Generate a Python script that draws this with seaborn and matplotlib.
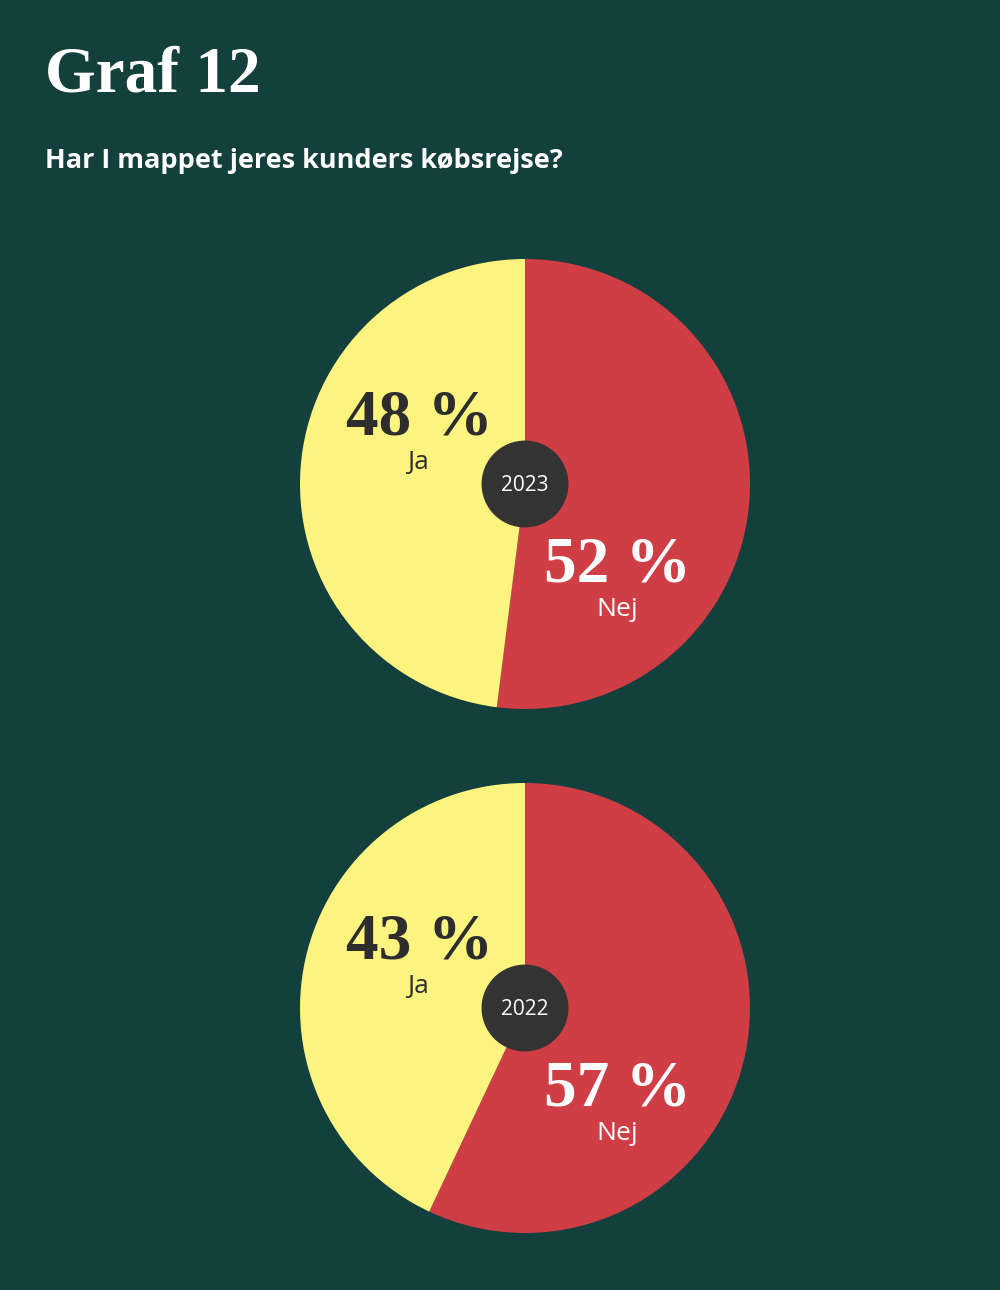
import matplotlib
matplotlib.use("Agg")
import matplotlib.pyplot as plt
import seaborn as sns

# data
years = ["2023", "2022"]
labels = ["Nej", "Ja"]
nej_pct = [52, 57]
ja_pct = [48, 43]

bg = "#133f3c"
red = "#cf3d45"
yellow = "#fcf47e"
dark = "#2d2d2d"
serif = "Liberation Serif"

sns.set_theme(style="white")
plt.rcParams['font.family'] = ['DejaVu Sans']

fig = plt.figure(figsize=(10, 12.9), dpi=100)
fig.patch.set_facecolor(bg)

fig.text(0.045, 1 - 92 / 1290, "Graf 12", family=serif, fontsize=47,
         fontweight="bold", color="white", va="baseline", ha="left")
fig.text(0.045, 0.875, "Har I mappet jeres kunders købsrejse?", family="Open Sans",
         fontsize=19.5, fontweight="bold", color="white", va="center", ha="left")

# pie axes positions in pixels (left, top)
pie_tops = [259, 783]
W, H = 1000, 1290
R = 225

for i, yr in enumerate(years):
    top = pie_tops[i]
    ax = fig.add_axes([300 / W, 1 - (top + 2 * R) / H, 2 * R / W, 2 * R / H])
    ax.pie([nej_pct[i], ja_pct[i]], colors=[red, yellow], startangle=90,
           counterclock=False, radius=1, wedgeprops=dict(linewidth=0))
    ax.set_xlim(-1, 1)
    ax.set_ylim(-1, 1)
    ax.set_aspect("equal")
    ax.axis("off")
    ax.add_patch(plt.Circle((0, 0), 0.19, color="#333333", zorder=5))
    ax.text(0, -0.005, yr, ha="center", va="center", fontsize=15, color="white",
            family="Open Sans", zorder=6)
    ax.text(-0.47, 0.29, f"{ja_pct[i]} %", ha="center", va="center", fontsize=47,
            fontweight="bold", family=serif, color=dark)
    ax.text(-0.476, 0.095, labels[1], ha="center", va="center", fontsize=19,
            family="Open Sans", color=dark)
    ax.text(0.41, -0.36, f"{nej_pct[i]} %", ha="center", va="center", fontsize=47,
            fontweight="bold", family=serif, color="white")
    ax.text(0.41, -0.56, labels[0], ha="center", va="center", fontsize=19,
            family="Open Sans", color="white")

fig.savefig("out.png", dpi=100, facecolor=bg)
